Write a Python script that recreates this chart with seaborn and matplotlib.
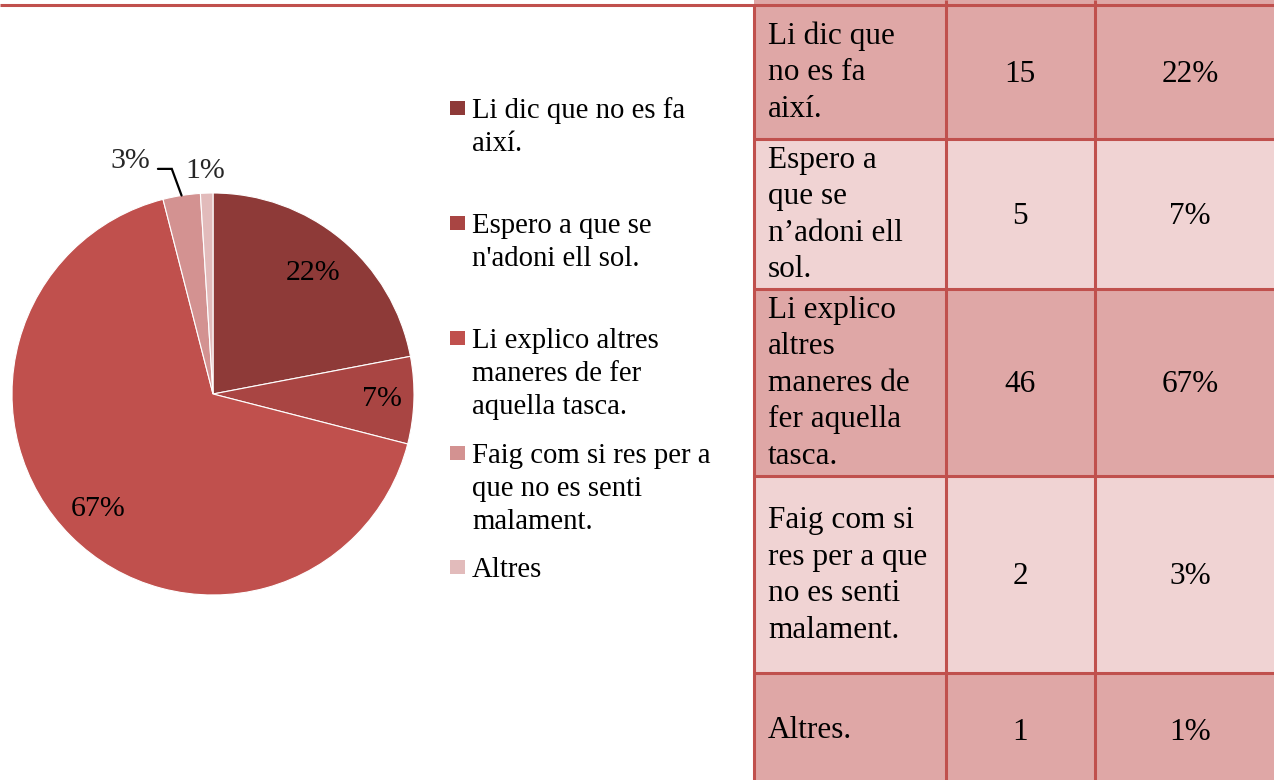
import matplotlib
matplotlib.use("Agg")
import matplotlib.pyplot as plt
from matplotlib.patches import Rectangle
import numpy as np
import seaborn as sns

# ---------------- data ----------------
categories = [
    "Li dic que no es fa així.",
    "Espero a que se n'adoni ell sol.",
    "Li explico altres maneres de fer aquella tasca.",
    "Faig com si res per a que no es senti malament.",
    "Altres",
]
legend_labels = [
    "Li dic que no es fa\naixí.",
    "Espero a que se\nn'adoni ell sol.",
    "Li explico altres\nmaneres de fer\naquella tasca.",
    "Faig com si res per a\nque no es senti\nmalament.",
    "Altres",
]
table_labels = [
    "Li dic que\nno es fa\naixí.",
    "Espero a\nque se\nn\u2019adoni ell\nsol.",
    "Li explico\naltres\nmaneres de\nfer aquella\ntasca.",
    "Faig com si\nres per a que\nno es senti\nmalament.",
    "Altres.",
]
counts = [15, 5, 46, 2, 1]
percents = [22, 7, 67, 3, 1]

# ---------------- style ----------------
slice_colors = sns.color_palette(["#8E3A38", "#A94543", "#C0504D", "#D39291", "#E2BBBB"])
dark_row = "#DFA7A6"
light_row = "#F0D3D3"
line_red = "#C0504D"

sns.set_style("white")
plt.rcParams['font.family'] = ['Liberation Serif', 'DejaVu Serif']

W, H = 1274, 780
fig = plt.figure(figsize=(W / 100, H / 100), dpi=100)
fig.patch.set_facecolor("white")

# pixel-coordinate overlay axes
bg = fig.add_axes([0, 0, 1, 1])
bg.set_xlim(0, W)
bg.set_ylim(H, 0)
bg.axis("off")

# ---------------- pie ----------------
pax = fig.add_axes([12 / W, (H - 595) / H, 402 / W, 402 / H])
wedges, _ = pax.pie(percents, colors=slice_colors, startangle=90, counterclock=False,
                    radius=1, wedgeprops=dict(edgecolor="white", linewidth=0.8))
pax.set_xlim(-1, 1)
pax.set_ylim(-1, 1)
pax.set_aspect("equal")
pax.axis("off")

label_fs = 21.5

inside_r = [0.78, 0.84, 0.81]
for i in range(3):
    w = wedges[i]
    ang = np.deg2rad((w.theta1 + w.theta2) / 2)
    pax.text(inside_r[i] * np.cos(ang), inside_r[i] * np.sin(ang), f"{percents[i]}%",
             ha="center", va="center", fontsize=label_fs, color="black")

# small slices: outside labels
w3 = wedges[3]
a3 = np.deg2rad((w3.theta1 + w3.theta2) / 2)
edge = (np.cos(a3) * 1.0, np.sin(a3) * 1.0)
elbow = (-0.205, 1.12)
end = (-0.274, 1.12)
pax.plot([edge[0], elbow[0], end[0]], [edge[1], elbow[1], end[1]],
         color="black", lw=1.6, clip_on=False, solid_joinstyle="miter")
pax.text(-0.413, 1.16, f"{percents[3]}%", ha="center", va="center", fontsize=label_fs)
pax.text(-0.040, 1.11, f"{percents[4]}%", ha="center", va="center", fontsize=label_fs)

# ---------------- legend ----------------
leg_fs = 20.7
leg_base = [118, 233, 348, 463, 577]
for i, lab in enumerate(legend_labels):
    b = leg_base[i]
    bg.add_patch(Rectangle((450, b - 17), 15, 14, facecolor=slice_colors[i], edgecolor="none"))
    for j, line in enumerate(lab.split("\n")):
        bg.text(472, b + j * 33, line, ha="left", va="baseline", fontsize=leg_fs, color="black")

# ---------------- table ----------------
row_y = [4.5, 138.5, 288.5, 475.5, 672.5, 786]
col_x = [753.5, 945.5, 1094.5, 1300]
tab_fs = 22.5
lw = 2.2

# strip of previous row above the top border
bg.add_patch(Rectangle((col_x[0], -5), col_x[-1] - col_x[0], row_y[0] + 5,
                       facecolor=dark_row, edgecolor="none"))
for i in range(5):
    fc = dark_row if i % 2 == 0 else light_row
    bg.add_patch(Rectangle((col_x[0], row_y[i]), col_x[-1] - col_x[0], row_y[i + 1] - row_y[i],
                           facecolor=fc, edgecolor="none"))

for i in range(5):
    c = (row_y[i] + row_y[i + 1]) / 2
    lines = table_labels[i].split("\n")
    n = len(lines)
    for j, line in enumerate(lines):
        bg.text(768, c + 9 + (j - (n - 1) / 2) * 36.5, line, ha="left", va="baseline",
                fontsize=tab_fs, color="black")
    bg.text((col_x[1] + col_x[2]) / 2, c + 10.5, f"{counts[i]}", ha="center", va="baseline",
            fontsize=tab_fs, color="black")
    bg.text(1190, c + 10.5, f"{percents[i]}%", ha="center", va="baseline",
            fontsize=tab_fs, color="black")

# borders
bg.plot([0, W], [row_y[0], row_y[0]], color=line_red, lw=lw, solid_capstyle="butt")
for y in row_y[1:-1]:
    bg.plot([col_x[0], W], [y, y], color=line_red, lw=lw, solid_capstyle="butt")
bg.plot([col_x[0], col_x[0]], [row_y[0], H], color=line_red, lw=lw, solid_capstyle="butt")
for x in col_x[1:3]:
    bg.plot([x, x], [0, H], color=line_red, lw=lw, solid_capstyle="butt")

fig.savefig("out.png", dpi=100, facecolor="white")
